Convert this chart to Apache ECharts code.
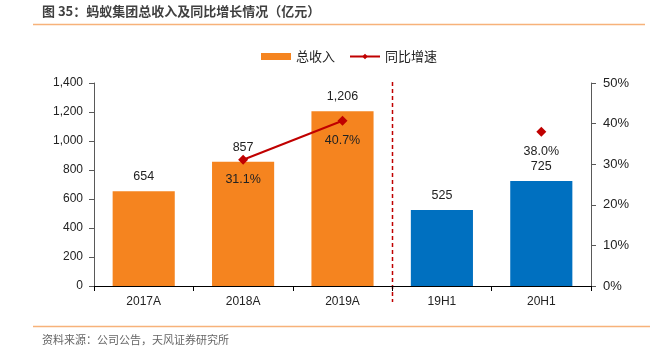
<!DOCTYPE html>
<html>
<head>
<meta charset="utf-8">
<script src="https://cdn.jsdelivr.net/npm/echarts@6/dist/echarts.min.js"></script>
<style>
html,body{margin:0;padding:0;background:#fff;}
#c{width:653px;height:355px;}
</style>
</head>
<body>
<div id="c"></div>
<script>
const titleText = '图 35：蚂蚁集团总收入及同比增长情况（亿元）';
const sourceText = '资料来源：公司公告，天风证券研究所';
const categories = ['2017A', '2018A', '2019A', '19H1', '20H1'];
const revenue = [654, 857, 1206, 525, 725];
const growth = ['-', 31.1, 40.7, '-', 38.0];
const annualCount = 3;
const leftTicks = [0, 1400, 200];
const rightTicks = [0, 50, 10];

const ORANGE = '#F5841F', BLUE = '#0070C0', RED = '#C00000';
const FONT = 'Liberation Sans, Arial, sans-serif';
const CJK = '"Noto Sans CJK SC", sans-serif';

function fmt(v) { return String(v).replace(/\B(?=(\d{3})+(?!\d))/g, ','); }

const chart = echarts.init(document.getElementById('c'), null, {renderer: 'canvas'});
const option = {
  animation: false,
  backgroundColor: '#fff',
  textStyle: {fontFamily: FONT},
  grid: {left: 94, right: 62, top: 83, bottom: 69, containLabel: false},
  legend: {
    top: 45, left: 256,
    itemWidth: 30, itemHeight: 7, itemGap: 14,
    textStyle: {fontFamily: CJK, fontSize: 13, color: '#222'},
    data: [{name: '总收入', icon: 'rect'}, {name: '同比增速'}]
  },
  xAxis: {
    type: 'category',
    data: categories,
    axisLine: {lineStyle: {color: '#000', width: 1}},
    axisTick: {show: true, length: 5, lineStyle: {color: '#000'}},
    axisLabel: {color: '#222', fontSize: 12, margin: 10, fontFamily: FONT}
  },
  yAxis: [{
    type: 'value', min: leftTicks[0], max: leftTicks[1], interval: leftTicks[2],
    axisLine: {show: true, lineStyle: {color: '#595959'}},
    axisTick: {show: true, length: 5, lineStyle: {color: '#595959'}},
    splitLine: {show: false},
    axisLabel: {color: '#222', fontSize: 12, margin: 11, formatter: v => fmt(v), fontFamily: FONT}
  }, {
    type: 'value', min: rightTicks[0], max: rightTicks[1], interval: rightTicks[2], position: 'right',
    axisLine: {show: true, lineStyle: {color: '#595959'}},
    axisTick: {show: true, length: 5, lineStyle: {color: '#595959'}},
    splitLine: {show: false},
    axisLabel: {color: '#222', fontSize: 13, margin: 12, formatter: '{value}%', fontFamily: FONT}
  }],
  series: [{
    name: '总收入', type: 'bar', barWidth: '62.5%',
    itemStyle: {color: ORANGE},
    data: revenue.map((v, i) => ({value: v, itemStyle: {color: i < annualCount ? ORANGE : BLUE}})),
    label: {show: true, position: 'top', distance: 8, color: '#222', fontSize: 12.5, formatter: p => fmt(p.value)}
  }, {
    name: '同比增速', type: 'line', yAxisIndex: 1,
    data: growth, connectNulls: false,
    symbol: 'diamond', symbolSize: 10,
    lineStyle: {color: RED, width: 2},
    itemStyle: {color: RED},
    label: {show: true, position: 'bottom', distance: 8, color: '#222', fontSize: 12.5,
      formatter: p => Number(p.value).toFixed(1) + '%'}
  }]
};
chart.setOption(option);

const x2 = chart.convertToPixel({xAxisIndex: 0}, categories[annualCount - 1]);
const x3 = chart.convertToPixel({xAxisIndex: 0}, categories[annualCount]);
const xd = Math.round((x2 + x3) / 2) + 0.5;
chart.setOption({
  graphic: [
    {type: 'text', left: 42, top: 5, style: {text: titleText, font: 'bold 13px "Noto Sans CJK SC", sans-serif', fill: '#404040'}},
    {type: 'line', shape: {x1: 33, y1: 24.5, x2: 645, y2: 24.5}, style: {stroke: '#F7B27A', lineWidth: 1.5}},
    {type: 'line', shape: {x1: xd, y1: 82, x2: xd, y2: 302}, style: {stroke: RED, lineWidth: 1.5, lineDash: [4, 3]}},
    {type: 'line', shape: {x1: 33, y1: 326.5, x2: 650, y2: 326.5}, style: {stroke: '#F7B27A', lineWidth: 1.5}},
    {type: 'text', left: 42, top: 334, style: {text: sourceText, font: '11px "Noto Sans CJK SC", sans-serif', fill: '#666'}}
  ]
});
</script>
</body>
</html>
